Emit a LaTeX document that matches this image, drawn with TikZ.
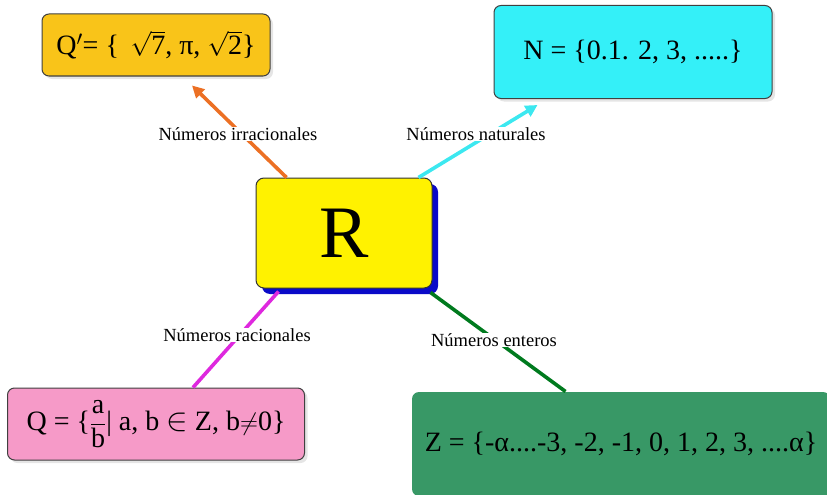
\documentclass[tikz,border=0pt]{standalone}
\usepackage{fontspec}
\setmainfont{Liberation Serif}
\usepackage{amsmath}
\usetikzlibrary{arrows.meta,positioning,calc,shadows}
\definecolor{irrfill}{RGB}{249,196,25}
\definecolor{natfill}{RGB}{52,240,248}
\definecolor{racfill}{RGB}{246,154,200}
\definecolor{entfill}{RGB}{56,152,102}
\definecolor{irrline}{RGB}{236,112,36}
\definecolor{natline}{RGB}{60,232,240}
\definecolor{racline}{RGB}{222,40,222}
\definecolor{entline}{RGB}{0,122,30}
\definecolor{rshadow}{RGB}{10,10,200}

\tikzset{
  setbox/.style={rounded corners=7pt,draw=black!75,line width=1pt,inner sep=0pt,
    font=\fontsize{28}{32}\selectfont,
    drop shadow={shadow xshift=3pt,shadow yshift=-3pt,fill=black!20}},
  branch/.style={line width=3.6pt},
  rama/.style={font=\fontsize{18.5}{22}\selectfont,fill=white,inner sep=0.5pt},
  tip/.style={-{Triangle[length=12pt,width=12pt]}},
}

\begin{document}
\begin{tikzpicture}[x=1pt,y=-1pt]
  \useasboundingbox (0,0) rectangle (827,495);
  \clip (0,0) rectangle (827,495);

  % the four sets
  \node[setbox,fill=irrfill,minimum width=228pt,minimum height=62pt] (Qp) at (156,45)
    {Q$'$= \{ \,$\sqrt{\text{7}}$, π, $\sqrt{\text{2}}$\}};
  \node[setbox,fill=natfill,minimum width=278pt,minimum height=93pt] (N) at (633,52)
    {N = \{0.1. 2, 3, .....\}};
  \node[setbox,fill=racfill,minimum width=297pt,minimum height=72pt] (Q) at (156,424)
    {Q = \{$\dfrac{\text{a}}{\text{b}}$| a, b \scalebox{1.3}{$\in$} Z, b$\neq$0\}};
  \node[setbox,draw=none,fill=entfill,minimum width=418pt,minimum height=104pt] (Z) at (621,444)
    {Z = \{-α....-3, -2, -1, 0, 1, 2, 3, ....α\}};

  % the reals
  \node[rounded corners=8pt,draw=black!80,line width=1pt,fill=yellow,
    minimum width=176pt,minimum height=110pt,
    drop shadow={shadow xshift=6pt,shadow yshift=-6pt,fill=rshadow,opacity=1},
    font=\fontsize{74}{80}\selectfont] (R) at (344,233) {R};

  % branches
  \draw[branch,irrline,tip] ($(R.north west)+(31,0)$) -- ($(Qp.south)+(36,9)$);
  \draw[branch,natline,tip] ($(R.north east)+(-14,0)$) -- ($(N.south west)+(44,6)$);
  \draw[branch,racline] ($(R.south west)+(23,3)$) -- ($(Q.north)+(37,0)$);
  \draw[branch,entline] ($(R.south east)+(-2,4)$) -- ($(Z.north west)+(154,0)$);

  \node[rama] (lirr) at (238,134) {Números irracionales};
  \node[rama] (lnat) at (476,134) {Números naturales};
  \node[rama] (lrac) at (237,335) {Números racionales};
  \node[rama] (lent) at (494,340) {Números enteros};
\end{tikzpicture}
\end{document}
